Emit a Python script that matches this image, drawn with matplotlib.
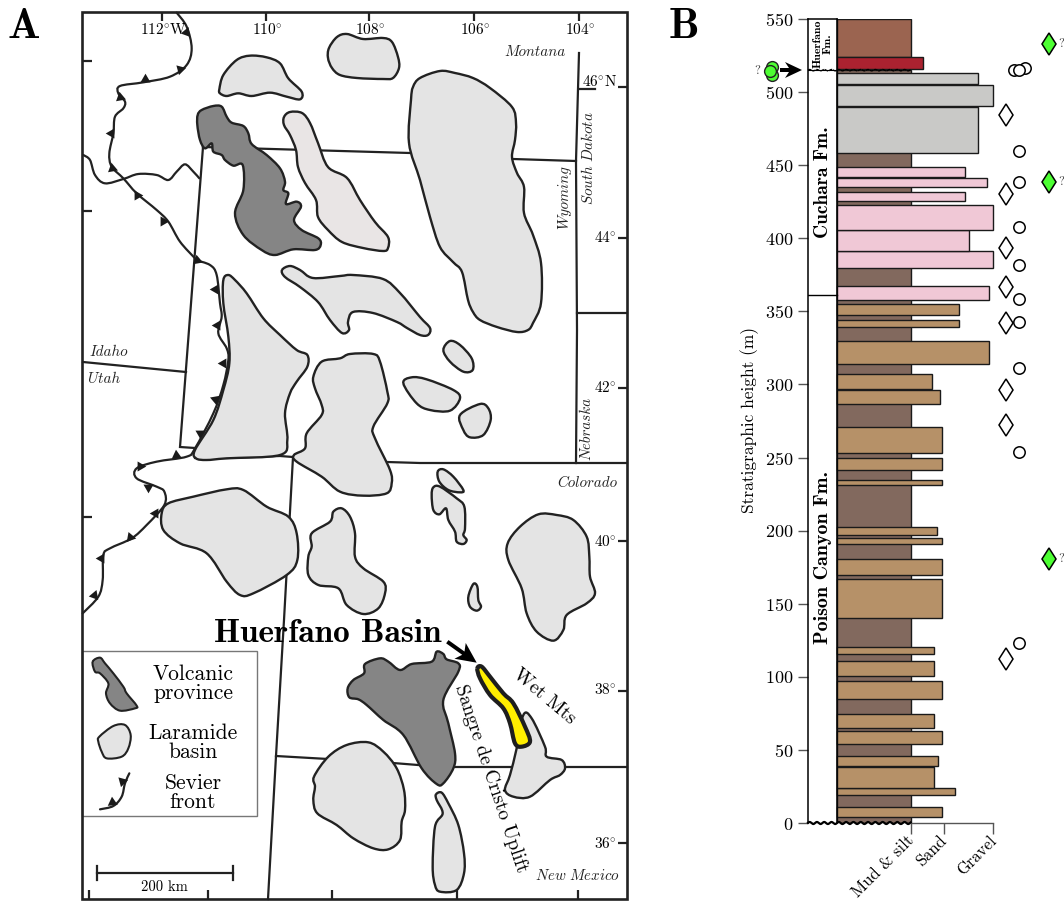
import numpy as np
import matplotlib
matplotlib.use("Agg")
import matplotlib.pyplot as plt
from matplotlib.path import Path
from matplotlib.patches import PathPatch, Rectangle, Polygon

plt.rcParams['mathtext.fontset'] = 'cm'
plt.rcParams['font.family'] = ['cmr10', 'DejaVu Serif']
plt.rcParams['axes.unicode_minus'] = False
plt.rcParams['axes.formatter.use_mathtext'] = True

# ---------- column data (m, grain-size width, class)
mud_top = 515.0
huerfano_mud = (524.0, 549.8)
bed_bottom = [3.9,19.1,23.9,38.9,54,65.1,84.7,100.6,115.5,140.5,169.9,190.8,197.3,231.2,241.7,252.8,286.3,297,314,339,347.6,
              357.8,379.7,391.5,406,425.7,435.2,441.6,458.5,490.6,505.6,515.7]
bed_top = [11.1,23.7,38.5,45.8,63,74.5,97.2,110.9,120.5,167.2,180.9,194.9,202.4,234.6,249.6,271.2,296.5,307,329.5,343.9,354.8,
           367.6,391.3,405.6,422.5,431.6,441.2,448.7,490.1,505.1,513.4,523.8]
bed_size = [104.7,118.3,97.3,101.3,104.7,97.3,104.7,97.3,97.3,104.7,104.7,104.7,100.3,104.7,104.7,104.7,103,94.7,152,122.3,122.3,
            151.7,156.3,132.3,156.3,127.7,150.3,127.7,141.3,156.3,141.3,86.3]
bed_kind = ['s']*21 + ['p']*7 + ['g']*3 + ['r']
kind_color = {'s':'#B69168','p':'#F0C8D6','g':'#C9C9C7','r':'#AB2230'}
circle_m = [515,516.2,515,460,438.8,407.9,381.9,358.5,342.5,311,253.5,122.8]
circle_off = [-5.6,5.7,0,0,0,0,0,0,0,0,0,0]
diamond_m = [484.6,430,393.6,366.4,341.8,296.5,272,112.5]
green_diamond_m = [532.7,438.2,180.6]
green_circle_m = [517.5,511.8,514.5]
green_circle_off = [1.5,1.5,-0.5]
y_ticks = [0,50,100,150,200,250,300,350,400,450,500,550]
grain_ticks = [73.5,107,156]
grain_labels = ['Mud & silt','Sand','Gravel']

# ---------- map outlines, pixels of the map sheet
def zc(pts, ox, oy):
    return [(ox+x/3, oy+y/3) for x,y in pts]

basin_a = zc([(418,268),(430,225),(470,180),(510,167),(560,172),(600,190),(625,235),(665,275),(660,298),(620,290),(570,278),(515,288),(475,280),(440,288),(420,280)],80,0)
volc_nw = zc([(353,345),(365,330),(400,318),(425,320),(440,350),(455,368),(490,378),(505,400),(515,432),(560,465),(600,505),(615,545),(610,570),(625,580),(618,612),(650,605),(663,620),(642,660),(665,690),(715,715),(722,735),(705,750),(640,748),(585,765),(545,750),(490,705),(465,640),(490,570),(488,495),(460,497),(435,480),(425,465),(400,455),(395,430),(375,445),(360,420),(352,375)],80,0)
pale = [(284,117),(290,112),(302,113),(310,123),(318,143),(328,167),(347,178),(360,200),(375,222),(388,237),(388,248),(383,251),(363,248),(342,242),(328,230),(318,217),(316,200),(305,183),(298,167),(296,150),(290,135),(284,125)]
basin_d = [(328,58),(329,48),(337,37),(347,34),(363,39),(383,38),(392,42),(398,57),(399,68),(393,78),(383,79),(357,78),(340,75),(332,68)]
basin_e = [(409,143),(411,100),(413,87),(420,78),(440,71),(455,73),(473,78),(490,88),(512,107),(516,123),(515,140),(512,157),(517,173),(524,187),(524,213),(533,235),(541,263),(541,303),(533,323),(528,330),(517,332),(497,327),(480,320),(473,312),(468,300),(462,272),(453,262),(440,247),(430,217),(420,180)]
basin_f = [(282,270),(290,266),(300,270),(313,278),(340,276),(353,275),(383,279),(400,293),(420,317),(430,328),(428,335),(420,335),(407,328),(397,322),(373,313),(353,312),(348,322),(349,330),(342,333),(330,320),(318,302),(300,287),(285,277)]
basin_g = zc([(430,60),(445,45),(465,60),(500,100),(550,175),(600,225),(650,270),(682,285),(682,320),(650,365),(630,400),(615,460),(622,540),(600,585),(440,595),(380,600),(348,595),(345,570),(400,480),(430,390),(448,310),(445,230),(430,130)],80,260)
basin_h = zc([(100,170),(125,125),(180,115),(210,102),(280,102),(300,125),(322,215),(322,250),(280,320),(285,355),(330,450),(335,490),(320,520),(250,527),(180,515),(125,470),(50,425),(42,405),(75,385),(80,340),(125,285),(125,255),(105,205)],280,320)
basin_i = zc([(490,90),(510,63),(540,75),(575,115),(578,150),(550,155),(510,125)],280,320)
basin_j = zc([(370,190),(395,172),(440,178),(520,210),(540,235),(510,272),(450,270),(410,250)],280,320)
basin_k = zc([(540,285),(600,252),(625,265),(632,300),(610,345),(570,352),(550,330)],280,320)
basin_l = zc([(473,455),(490,448),(520,470),(550,510),(540,517),(505,510),(478,485)],280,320)
basin_m = zc([(455,525),(460,502),(480,500),(530,535),(553,560),(555,625),(550,645),(560,660),(550,672),(530,665),(525,635),(505,600),(498,565),(478,583),(460,570)],280,320)
basin_n = zc([(565,830),(580,792),(592,800),(595,840),(603,860),(590,872),(570,860)],280,320)
basin_o = zc([(683,670),(720,620),(775,583),(830,585),(880,600),(920,650),(928,710),(930,770),(945,820),(920,850),(860,885),(850,930),(820,962),(770,935),(740,880),(725,805),(685,720)],280,320)
basin_p = zc([(95,640),(150,605),(160,575),(185,565),(210,590),(225,640),(225,710),(250,745),(310,785),(315,820),(295,865),(250,882),(200,855),(175,805),(115,795),(85,765),(85,710),(95,680)],280,320)
basin_q = zc([(245,760),(265,730),(340,710),(440,688),(490,690),(560,740),(625,770),(650,820),(652,900),(620,945),(520,1000),(480,1005),(440,965),(380,880),(300,850),(250,810)],80,260)
volc_s = zc([(323,145),(340,120),(372,100),(375,72),(420,55),(445,65),(480,90),(515,72),(575,65),(590,35),(610,42),(620,58),(655,70),(655,95),(610,180),(625,250),(645,340),(640,385),(610,430),(590,432),(545,385),(490,285),(430,240),(380,195),(355,178),(328,172)],240,640)
basin_s = zc([(222,410),(265,350),(320,315),(385,307),(430,335),(470,385),(492,450),(495,510),(485,545),(480,600),(445,628),(400,625),(340,595),(290,555),(232,520),(220,480),(225,440)],240,640)
basin_t = zc([(588,463),(605,458),(625,490),(655,555),(672,640),(672,700),(650,750),(600,755),(585,735),(578,680),(585,560),(608,520),(590,480)],240,640)
basin_u = zc([(550,285),(575,295),(615,380),(620,410),(665,420),(675,445),(660,465),(630,480),(570,530),(520,530),(495,510),(510,465),(530,385)],340,620)
huerfano = zc([(412,145),(425,140),(450,170),(490,220),(520,250),(555,320),(570,365),(545,380),(525,370),(510,310),(490,265),(450,225),(420,175)],340,620)
leg_volc = zc([(38,125),(60,113),(75,130),(100,160),(130,200),(140,220),(170,257),(165,265),(120,272),(90,250),(78,220),(85,190),(60,160),(45,155)],80,620)
leg_basin = zc([(58,350),(100,318),(135,315),(152,345),(145,385),(125,410),(80,415),(65,395),(55,365)],80,620)
leg_front = zc([(60,568),(100,558),(125,530),(135,490),(148,460)],80,620)
leg_teeth = [(80+125/3,620+483/3,45),(80+95/3,620+545/3,5)]

front_n = zc([(290,38),(320,80),(335,145),(320,195),(270,230),(190,247),(120,258),(115,280),(135,305),(130,325),(105,350),(100,400),(88,460),(95,500),(130,535),(170,580),(230,630),(265,665),(300,725),(345,775)],80,0)
front_s = zc([(345,0),(390,15),(410,45),(420,130),(425,170),(415,220),(440,265),(445,300),(430,375),(400,460),(345,565),(320,590),(230,605),(170,625),(170,655),(230,680),(253,695),(253,735),(200,795),(155,835),(90,865),(70,885),(68,960),(55,1010),(8,1060)],80,260)
teeth_n = [(318,95,-20),(300,208,45),(195,238,0),(120,290,10),(92,398,90),(95,503,10),(170,585,30),(250,662,30),(350,780,10)]
teeth_s = [(405,87,90),(410,195,90),(430,310,90),(405,418,70),(360,520,60),(288,585,5),(180,617,30),(205,680,180),(225,760,90),(150,832,20),(62,895,90),(42,1005,100)]
idaho_line = zc([(10,465),(30,480),(45,525),(75,550),(130,537),(175,522),(230,525),(265,540),(290,515),(315,493),(340,515),(358,535)],80,0)

border_lines = [
    [(203,147),(410,153),(513,159),(576,161)],
    [(203,147),(180,447),(195,448)],
    [(83,362),(186,372)],
    [(579,53),(576,161),(577,330),(576,463)],
    [(579,89),(595,89)],
    [(577,313),(627,313)],
    [(387,462),(420,463),(627,463)],
    [(195,458),(227,458),(280,456),(293,457)],
    [(293,457),(284,620),(276,756),(268,899)],
    [(276,756),(328,759),(393,763),(418,765),(455,767),(627,767)],
]
top_ticks = [162,265.7,369,474,579]
top_tick_labels = ['112$^{\\circ}$W','110$^{\\circ}$','108$^{\\circ}$','106$^{\\circ}$','104$^{\\circ}$']
left_ticks = [61,211,517]
right_ticks = [87,238,388,541,691,843]
right_tick_labels = ['46$^{\\circ}$N','44$^{\\circ}$','42$^{\\circ}$','40$^{\\circ}$','38$^{\\circ}$','36$^{\\circ}$']
right_label_y = [81,238,388,541,689,844]
bottom_ticks = [89,208,332,457,578]

INK = '#222222'
BASIN = '#E4E4E4'
VOLC = '#858585'

def smooth(pts, closed=True):
    p = np.array(pts, float)
    n = len(p)
    verts = [p[0]]; codes = [Path.MOVETO]
    rng = n if closed else n-1
    for i in range(rng):
        if closed:
            p0,p1,p2,p3 = p[(i-1)%n],p[i],p[(i+1)%n],p[(i+2)%n]
        else:
            p0,p1,p2,p3 = p[max(i-1,0)],p[i],p[i+1],p[min(i+2,n-1)]
        verts += [p1+(p2-p0)/6, p2-(p3-p1)/6, p2]
        codes += [Path.CURVE4]*3
    return Path(verts, codes)

def stealth(x0,y0,x1,y1,stem,hl,hw,notch):
    a,b = np.array([x0,y0],float),np.array([x1,y1],float)
    d = (b-a)/np.hypot(*(b-a)); n = np.array([-d[1],d[0]])
    nb = b-(hl-notch)*d
    return [a+n*stem/2, nb+n*stem/2, b-hl*d+n*hw/2, b, b-hl*d-n*hw/2, nb-n*stem/2, a-n*stem/2]

fig = plt.figure(figsize=(10.64,9.01), dpi=100)
m = fig.add_axes([0,0,1,1])
m.set_xlim(0,1064); m.set_ylim(901,0); m.axis('off')

def area(pts, fc=BASIN, lw=1.7, ec=INK, z=4):
    m.add_patch(PathPatch(smooth(pts), fc=fc, ec=ec, lw=lw, zorder=z, joinstyle='round'))
def curve(pts, lw=1.6, z=3):
    m.add_patch(PathPatch(smooth(pts, closed=False), fc='none', ec=INK, lw=lw, zorder=z, capstyle='round'))
def teeth(items, z=3.5, s=70):
    for x,y,a in items:
        m.scatter([x],[y], marker=(3,0,a), s=s, c='#1a1a1a', linewidths=0, zorder=z)

for b in border_lines:
    xs,ys = zip(*b)
    m.plot(xs,ys,color=INK,lw=1.6,zorder=2,solid_joinstyle='miter')
curve(idaho_line, z=2)
curve(front_n); curve(front_s)
teeth([(80+x/3,y/3,a) for x,y,a in teeth_n])
teeth([(80+x/3,260+y/3,a) for x,y,a in teeth_s])

for b in [basin_a,basin_d,basin_e,basin_f,basin_g,basin_h,basin_i,basin_j,basin_k,basin_l,basin_m,basin_n,basin_o,basin_p,basin_q,basin_s,basin_t,basin_u]:
    area(b)
area(pale, fc='#E9E5E5')
area(volc_nw, fc=VOLC); area(volc_s, fc=VOLC)
area(huerfano, fc='#FFEE00', lw=3.0, ec='#1e1e1e', z=5)

m.add_patch(Rectangle((82,12),545,887,fc='none',ec=INK,lw=1.9,zorder=8))
for x,l in zip(top_ticks,top_tick_labels):
    m.plot([x,x],[12,21],color=INK,lw=1.6,zorder=8,solid_capstyle='butt')
    m.text(x+(1 if 'W' not in l else 2),30,l,ha='center',va='center',fontsize=11,zorder=9)
for y in left_ticks:
    m.plot([82,92],[y,y],color=INK,lw=1.6,zorder=8,solid_capstyle='butt')
for y,ly,l in zip(right_ticks,right_label_y,right_tick_labels):
    m.plot([618,627],[y,y],color=INK,lw=1.6,zorder=8,solid_capstyle='butt')
    m.text(617,ly,l,ha='right',va='center',fontsize=11,zorder=9)
for x in bottom_ticks:
    m.plot([x,x],[890,899],color=INK,lw=1.6,zorder=8,solid_capstyle='butt')

it = dict(family=['cmmi10','DejaVu Serif'],fontsize=10.8,color='#222222',zorder=9,ha='center',va='center')
m.text(535,52,'Montana',**it)
m.text(588,158,r'$\mathit{South\ Dakota}$',rotation=90,**it)
m.text(564,197,'Wyoming',rotation=90,**it)
m.text(108.5,352,'Idaho',**it)
m.text(104,379,'Utah',**it)
m.text(586,428,'Nebraska',rotation=90,**it)
m.text(587,483,'Colorado',**it)
m.text(577,876,r'$\mathit{New\ Mexico}$',**it)

bf = ['cmb10','DejaVu Serif']
m.text(24,28,'A',family=bf,fontsize=31,ha='center',va='center')
m.text(684,28,'B',family=bf,fontsize=31,ha='center',va='center')
m.text(327.5,633,'Huerfano Basin',family=bf,fontsize=24,ha='center',va='center',zorder=9)
m.add_patch(Polygon(stealth(447.3,641.7,476.7,662.7,4,20.4,19.4,4),fc='k',ec='none',zorder=9))
m.text(544,697,'Wet Mts',rotation=-40,fontsize=14,ha='center',va='center',rotation_mode='anchor',zorder=9)
m.text(491,779,'Sangre de Cristo Uplift',rotation=-71.5,fontsize=14,ha='center',va='center',rotation_mode='anchor',zorder=9)

m.add_patch(Rectangle((82,650.7),174.7,165.3,fc='white',ec='#777777',lw=1.0,zorder=6))
area(leg_volc, fc=VOLC, lw=1.5, z=7); area(leg_basin, lw=1.5, z=7)
curve(leg_front, lw=1.6, z=7)
teeth(leg_teeth, z=7)
for y,l in [(674,'Volcanic'),(693,'province'),(733,'Laramide'),(752,'basin'),(783,'Sevier'),(802,'front')]:
    m.text(193,y,l,fontsize=15.5,ha='center',va='center',zorder=7)
m.plot([96.7,233],[873,873],color=INK,lw=1.6,zorder=7)
for x in (96.7,233):
    m.plot([x,x],[866,880],color=INK,lw=1.6,zorder=7)
m.text(164,887,'200 km',fontsize=10.5,ha='center',va='center',zorder=7)
m.add_patch(Polygon(stealth(780,70,802,70,4,17,16,4),fc='k',ec='none',zorder=9))

# ---------- column
L,R,T,B = 808,993,19,823
ax = fig.add_axes([L/1064,1-B/901,(R-L)/1064,(B-T)/901])
ax.patch.set_alpha(0)
ax.set_xlim(-29,156); ax.set_ylim(0,550)
ax.barh(mud_top/2,73.5,height=mud_top,left=0,color='#82695E',edgecolor='#1a1a1a',lw=1.0,zorder=1)
ax.barh(sum(huerfano_mud)/2,73.5,height=huerfano_mud[1]-huerfano_mud[0],left=0,color='#9B6450',edgecolor='#1a1a1a',lw=1.0,zorder=1)
for b,t,s,k in zip(bed_bottom,bed_top,bed_size,bed_kind):
    bars = ax.barh((b+t)/2,s,height=t-b,left=0,color=kind_color[k],edgecolor='#1a1a1a',lw=1.0,zorder=2)
    for r in bars:
        r.set_clip_on(False)
ax.plot([-29,0],[361,361],color='k',lw=1.0,zorder=3)
ax.plot([-29,0],[515,515],color='k',lw=0.8,zorder=3)
ax.plot([-29,-29],[0,550],color='k',lw=1.1,zorder=3,clip_on=False)
ax.plot([0,0],[0,550],color='k',lw=1.1,zorder=3,clip_on=False)
ax.plot([-29,0],[550,550],color='k',lw=1.1,zorder=3,clip_on=False)
wx = np.linspace(-29,73.5,500)
ax.plot(wx,0.7*np.sin(2*np.pi*wx/7.3),color='k',lw=1.6,zorder=5,clip_on=False)
ax.plot(wx,515+0.5*np.sin(2*np.pi*wx/7.3),color='k',lw=0.9,ls=(0,(3,0.6)),zorder=5,clip_on=False)

ax.set_yticks(y_ticks)
ax.set_xticks(grain_ticks)
ax.set_xticklabels(['']*len(grain_ticks))
for x,l in zip(grain_ticks,grain_labels):
    ax.annotate(l,xy=(x,0),xycoords='data',xytext=(0.5,-11),textcoords='offset points',rotation=45,
                ha='right',va='center',rotation_mode='anchor',fontsize=12,annotation_clip=False)
ax.tick_params(axis='y',length=7.5,width=1.0,color='#555555',labelsize=13,pad=3)
ax.tick_params(axis='x',length=8,width=1.0,color='#555555',pad=2)
for s in ['top','right','left']:
    ax.spines[s].set_visible(False)
ax.spines['bottom'].set_bounds(73.5,156)
ax.spines['bottom'].set_color('#555555')
ax.spines['bottom'].set_linewidth(1.0)
ax.set_ylabel('Stratigraphic height (m)',fontsize=12.5)
ax.yaxis.set_label_coords((759-L)/(R-L),(B-420)/(B-T))
ax.text(-14,(823-181.7)/1.4636,'Cuchara Fm.',family=bf,rotation=90,fontsize=14,ha='center',va='center',zorder=6)
ax.text(-14,(823-557)/1.4636,'Poison Canyon Fm.',family=bf,rotation=90,fontsize=14.4,ha='center',va='center',zorder=6)
ax.text(-14,(823-43)/1.4636,'Huerfano\nFm.',family=bf,rotation=90,fontsize=8.5,ha='center',va='center',linespacing=1.0,zorder=6)

circle_x = 182.3; diamond_x = 168.7; green_x = 212.3
ax.plot([circle_x+o for o in circle_off],circle_m,'o',ms=8.2,mfc='white',mec='k',mew=1.1,clip_on=False,zorder=6)
ax.plot([diamond_x]*len(diamond_m),diamond_m,'d',ms=11.5,mfc='white',mec='k',mew=1.1,clip_on=False,zorder=6)
ax.plot([green_x]*len(green_diamond_m),green_diamond_m,'d',ms=11.5,mfc='#4DFF33',mec='k',mew=1.1,clip_on=False,zorder=6)
ax.plot([-67+o for o in green_circle_off],green_circle_m,'o',ms=8.5,mfc='#4DFF33',mec='#222222',mew=1.0,clip_on=False,zorder=6)
for v in green_diamond_m:
    ax.text(green_x+9,v,'?',fontsize=9,color='#444444',ha='left',va='center',clip_on=False)
ax.text(-80,514.8,'?',fontsize=9,color='#444444',ha='center',va='center',clip_on=False)
fig.savefig('out.png',dpi=100)
